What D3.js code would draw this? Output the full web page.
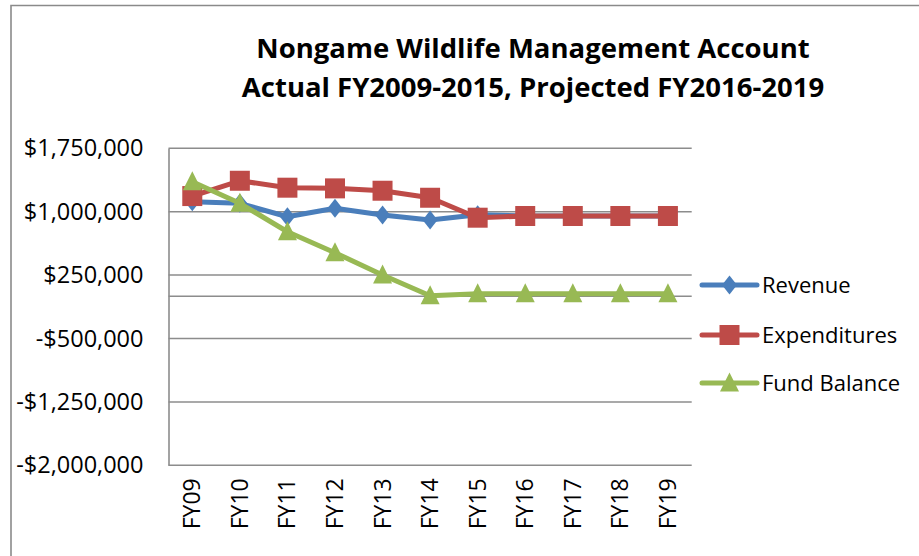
<!DOCTYPE html>
<html><head><meta charset="utf-8">
<script src="https://cdn.jsdelivr.net/npm/d3@7"></script>
<style>html,body{margin:0;padding:0;background:#fff;}svg{display:block;}</style>
</head><body>
<svg id="chart" width="919" height="556"></svg>
<script>
const categories = ["FY09","FY10","FY11","FY12","FY13","FY14","FY15","FY16","FY17","FY18","FY19"];
const revenue = [1118000, 1099000, 940000, 1040000, 961000, 901000, 965000, 950000, 950000, 950000, 950000];
const expenditures = [1185000, 1366000, 1284000, 1276000, 1248000, 1165000, 929000, 949000, 949000, 949000, 949000];
const fundBalance = [1355000, 1099000, 763000, 515000, 251000, 5000, 28000, 28000, 28000, 28000, 28000];
const yTicks = [-2000000, -1250000, -500000, 250000, 1000000, 1750000];
const titleLines = ["Nongame Wildlife Management Account", "Actual FY2009-2015, Projected FY2016-2019"];
const seriesNames = ["Revenue", "Expenditures", "Fund Balance"];

const colors = ["#4A7EBB", "#BE4B48", "#98B954"];
const shapes = ["diamond", "square", "triangle"];
const FONT = "'Open Sans', 'Noto Sans', sans-serif";

const svg = d3.select("#chart");
const L = 168.5, R = 691.7, T = 148.3, B = 465.3;

const x = d3.scaleBand().domain(categories).range([L, R]);
const y = d3.scaleLinear().domain([-2000000, 1750000]).range([B, T]);

// outer border
svg.append("path").attr("d", `M11,556 L11,5.5 L919,5.5`).attr("fill","none")
  .attr("stroke","#8a8a8a").attr("stroke-width",1.6);

// title
const title = svg.append("text").attr("font-family", FONT).attr("font-weight", "bold")
  .attr("font-size", 27.5).attr("fill", "#000").attr("text-anchor", "middle");
titleLines.forEach((t, i) => {
  title.append("tspan").attr("x", 533).attr("y", 58 + i * 39).text(t);
});

// gridlines
const gridVals = yTicks.concat([0]);
svg.append("g").selectAll("line").data(gridVals).join("line")
  .attr("x1", L).attr("x2", R)
  .attr("y1", d => y(d)).attr("y2", d => y(d))
  .attr("stroke", "#8c8c8c").attr("stroke-width", 1.5);

// y axis
const yAxis = d3.axisLeft(y).tickValues(yTicks).tickSize(0).tickPadding(25)
  .tickFormat(d => (d < 0 ? "-$" : "$") + d3.format(",")(Math.abs(d)));
const yg = svg.append("g").attr("transform", `translate(${L},0)`).call(yAxis);
yg.select(".domain").attr("stroke", "#8c8c8c").attr("stroke-width", 1.6);
yg.selectAll("text").attr("font-family", FONT).attr("font-size", 23.5).attr("fill", "#000");

// x axis labels (at bottom)
const xAxis = d3.axisBottom(x).tickSize(0).tickPadding(0);
const xg = svg.append("g").attr("transform", `translate(0,${B})`).call(xAxis);
xg.select(".domain").remove();
xg.selectAll("text").attr("font-family", FONT).attr("font-size", 23).attr("fill", "#000")
  .attr("text-anchor", "end").attr("dy", null).attr("y", 0)
  .attr("transform", "translate(8,13) rotate(-90)");

function markerPath(shape) {
  if (shape === "diamond") return "M0,-9.5 L7.5,0 L0,9.5 L-7.5,0 Z";
  if (shape === "square") return "M-10,-10 L10,-10 L10,10 L-10,10 Z";
  return "M0,-10.5 L9.5,8.5 L-9.5,8.5 Z";
}

const seriesData = [revenue, expenditures, fundBalance];
const line = d3.line().x((d, i) => x(categories[i]) + x.bandwidth() / 2).y(d => y(d));

seriesData.forEach((vals, s) => {
  const g = svg.append("g");
  g.append("path").attr("d", line(vals)).attr("fill", "none")
    .attr("stroke", colors[s]).attr("stroke-width", 5).attr("stroke-linejoin", "round").attr("stroke-linecap","round");
  g.selectAll("path.m").data(vals).join("path").attr("class", "m")
    .attr("d", markerPath(shapes[s]))
    .attr("transform", (d, i) => `translate(${x(categories[i]) + x.bandwidth() / 2},${y(d)})`)
    .attr("fill", colors[s]);
});

// legend
const legendY = [285, 335, 383];
seriesNames.forEach((name, s) => {
  const g = svg.append("g").attr("transform", `translate(0,${legendY[s]})`);
  g.append("line").attr("x1", 702).attr("x2", 757).attr("y1", 0).attr("y2", 0)
    .attr("stroke", colors[s]).attr("stroke-width", 5).attr("stroke-linecap", "round");
  g.append("path").attr("d", markerPath(shapes[s])).attr("transform", "translate(729.5,0)").attr("fill", colors[s]);
  g.append("text").attr("x", 762).attr("y", 0).attr("dy", "0.36em")
    .attr("font-family", FONT).attr("font-size", 22).attr("fill", "#000").text(name);
});
</script>
</body></html>
